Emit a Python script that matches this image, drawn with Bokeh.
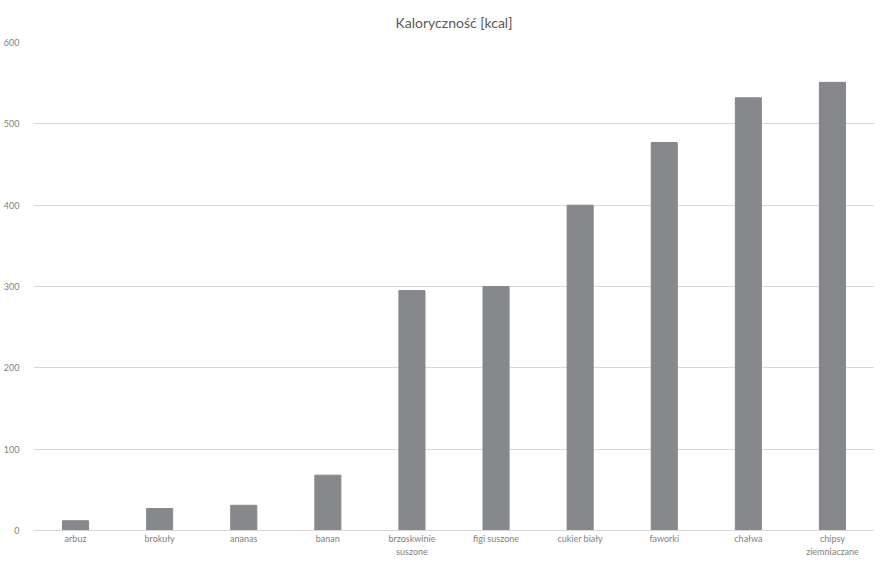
from bokeh.plotting import figure
from bokeh.models import Range1d, FactorRange, ColumnDataSource, FixedTicker
from bokeh.embed import file_html
from bokeh.resources import INLINE

categories = ["arbuz", "brokuły", "ananas", "banan", "brzoskwinie\nsuszone",
              "figi suszone", "cukier biały", "faworki", "chałwa", "chipsy\nziemniaczane"]
values = [12, 27, 31, 68, 295, 300, 400, 477, 532, 551]
y_ticks = [0, 100, 200, 300, 400, 500, 600]

FONT = "Lato"
GREY = "#7f7f7f"

src = ColumnDataSource(dict(cat=categories, val=values))

p = figure(width=874, height=559, output_backend="svg", toolbar_location=None,
           x_range=FactorRange(*categories, range_padding=0), y_range=Range1d(0, 600),
           title="Kaloryczność [kcal]",
           min_border_left=30, min_border_right=0, min_border_top=0, min_border_bottom=0)

p.vbar(x="cat", top="val", width=0.31, source=src, color="#87888c", line_color="#87888c")

p.title.align = "center"
p.title.text_font = FONT
p.title.text_font_size = "14px"
p.title.text_font_style = "normal"
p.title.text_color = "#595959"
p.title.text_line_height = 1.0
p.title.offset = 0
p.title.standoff = 23

p.outline_line_color = None
p.xgrid.grid_line_color = None
p.ygrid.grid_line_color = "#d9d9d9"
p.ygrid.grid_line_width = 1

p.yaxis.ticker = FixedTicker(ticks=y_ticks)
p.yaxis.axis_line_color = None
p.yaxis.major_tick_line_color = None
p.yaxis.minor_tick_line_color = None
p.yaxis.major_label_text_font = FONT
p.yaxis.major_label_text_font_size = "9px"
p.yaxis.major_label_text_color = GREY
p.yaxis.major_label_standoff = 8

p.xaxis.axis_line_color = "#d9d9d9"
p.xaxis.major_tick_line_color = None
p.xaxis.minor_tick_line_color = None
p.xaxis.major_tick_out = 0
p.xaxis.major_tick_in = 0
p.xaxis.axis_label_standoff = 0
p.xaxis.major_label_text_font = FONT
p.xaxis.major_label_text_font_size = "9px"
p.xaxis.major_label_text_line_height = 1.2
p.xaxis.major_label_text_color = GREY
p.xaxis.major_label_standoff = 2

open("out.html", "w").write(file_html(p, INLINE))
